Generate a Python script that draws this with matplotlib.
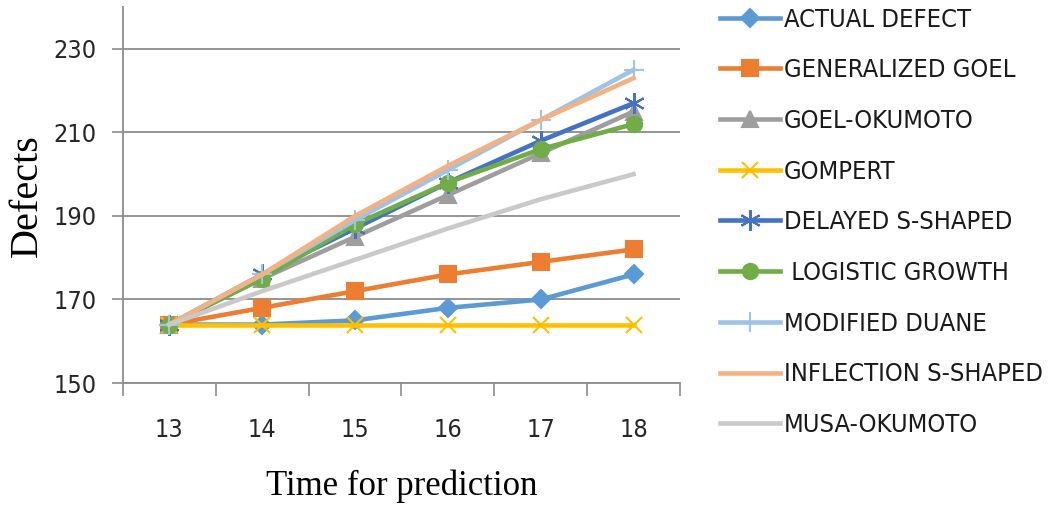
import numpy as np
import matplotlib
matplotlib.use("Agg")
import matplotlib.pyplot as plt
from matplotlib import font_manager as fm
from matplotlib.textpath import TextPath

times = [13, 14, 15, 16, 17, 18]
actual = [164, 164, 165, 168, 170, 176]
gen_goel = [164, 168, 172, 176, 179, 182]
goel_okumoto = [164, 175, 185, 195, 205, 215]
gompert = [164, 164, 164, 164, 164, 164]
delayed_s = [164, 176, 187, 198, 208, 217]
logistic = [164, 175, 188, 198, 206, 212]
mod_duane = [164, 176, 189, 201, 213, 225]
inflection_s = [164, 176, 190, 202, 213, 223]
musa_okumoto = [164, 172, 179.5, 187, 194, 200]

series = [
    ("ACTUAL DEFECT", actual, "#5B9BD5", "D", 9),
    ("GENERALIZED GOEL", gen_goel, "#ED7D31", "s", 11),
    ("GOEL-OKUMOTO", goel_okumoto, "#9E9E9E", "^", 11),
    ("GOMPERT", gompert, "#FFC000", "x", 12),
    ("DELAYED S-SHAPED", delayed_s, "#4472C4", (6, 2, 0), 15),
    (" LOGISTIC GROWTH", logistic, "#70AD47", "o", 11),
    ("MODIFIED DUANE", mod_duane, "#9DC3E6", "+", 15),
    ("INFLECTION S-SHAPED", inflection_s, "#F4B183", None, 0),
    ("MUSA-OKUMOTO", musa_okumoto, "#C9C9C9", None, 0),
]

# pick the narrowest sans available (the original used a condensed Calibri look)
fonts = fm.fontManager.ttflist
names = {f.name for f in fonts}
if "Liberation Sans Narrow" in names:
    sans = fm.FontProperties(family="Liberation Sans Narrow")
elif any(f.name == "DejaVu Sans" and "condensed" in str(f.stretch) for f in fonts):
    sans = fm.FontProperties(family="DejaVu Sans", stretch="condensed")
else:
    sans = fm.FontProperties(family="Roboto")


def fit_size(text, width_px, prop):
    w = TextPath((0, 0), text, size=10, prop=prop).get_extents().width
    return 10 * width_px * 0.72 / w


legend_size = fit_size("ACTUAL DEFECT", 187, sans)
tick_size = fit_size("230", 40, sans)

fig = plt.figure(figsize=(10.51, 5.08), dpi=100)
ax = fig.add_axes([0.117, 0.246, 0.530, 0.740])

x = np.arange(len(times))
for name, vals, col, mk, ms in series:
    ax.plot(x, vals, color=col, lw=3.3, marker=mk, markersize=ms,
            markeredgecolor=col, markerfacecolor=col, mew=1.5, label=name)

ax.set_xlim(-0.5, len(times) - 0.5)
ax.set_ylim(150, 240)
ax.set_yticks([150, 170, 190, 210, 230])
ax.set_xticks(x)
ax.set_xticklabels([str(t) for t in times])
ax.set_xticks(np.arange(-0.5, len(times)), minor=True)
ax.tick_params(axis="x", which="major", length=0, pad=25)
ax.tick_params(axis="x", which="minor", length=9, color="#8c8c8c", width=1.2)
ax.tick_params(axis="y", length=8, color="#8c8c8c", width=1.2, pad=11)
for lab in ax.get_xticklabels() + ax.get_yticklabels():
    lab.set_fontproperties(sans)
    lab.set_fontsize(tick_size)
    lab.set_color("#262626")
ax.grid(axis="y", color="#8c8c8c", lw=1.3)
ax.set_axisbelow(True)
for s in ["top", "right"]:
    ax.spines[s].set_visible(False)
for s in ["left", "bottom"]:
    ax.spines[s].set_color("#8c8c8c")
    ax.spines[s].set_linewidth(1.3)

ax.set_ylabel("Defects", family="Liberation Serif", fontsize=29)
ax.yaxis.set_label_coords(-0.138, 0.5)
ax.set_xlabel("Time for prediction", family="Liberation Serif", fontsize=25, labelpad=20)

leg_prop = sans.copy()
leg_prop.set_size(legend_size)
fig.legend(loc="upper left", bbox_to_anchor=(0.685, 0.985), frameon=False,
           prop=leg_prop, handlelength=60 / (legend_size / 0.72),
           labelspacing=1.05, handletextpad=0.15, borderpad=0, borderaxespad=0,
           labelcolor="#1a1a1a")

fig.savefig("out.png", dpi=100)
